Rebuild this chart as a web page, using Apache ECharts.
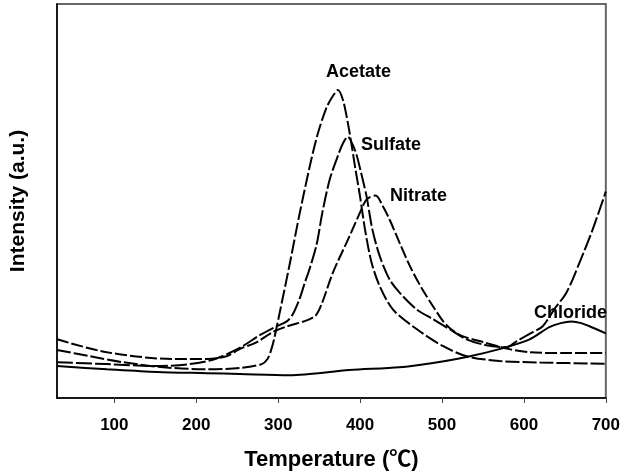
<!DOCTYPE html>
<html>
<head>
<meta charset="utf-8">
<script src="https://cdn.jsdelivr.net/npm/echarts@6/dist/echarts.min.js"></script>
<style>
html,body{margin:0;padding:0;background:#fff;}
#chart{width:623px;height:476px;}
</style>
</head>
<body>
<div id="chart"></div>
<script>
// ---- data (temperature in °C, intensity in arbitrary units) ----
var xTicks = [100, 200, 300, 400, 500, 600, 700];

var acetateT = [30,70,110,160,210,253,280,287,291,295,302,314,326,339,348,359,367,373,379,385,390,394,400,406,414,424,440,469,501,530,570,620,700];
var acetateI = [12.2,10.6,9.1,7.8,7.3,7.6,8.6,9.9,11.9,14.9,21.8,33.9,46.6,59.2,66.8,73.7,76.7,78.2,75.7,69.9,63.8,58.5,51.1,42.8,34.4,28.4,22.5,17.5,13.2,10.6,9.4,9.0,8.7];

var sulfateT = [30,91,152,192,223,253,278,296,311,318,326,332,339,347,354,363,373,379,385,391,396,402,408,415,424,436,448,469,489,509,530,554,579,591,611,623,637,652,668,684,700];
var sulfateI = [9.1,8.6,8.1,8.6,9.9,12.7,16.0,18.0,19.5,21.3,25.1,28.9,33.2,39.0,47.1,55.5,61.5,64.6,66.3,64.3,61.5,56.5,51.1,42.8,36.0,30.1,26.8,22.5,20.0,17.5,14.9,13.4,12.9,14.4,16.7,18.2,22.5,26.8,34.4,42.8,52.4];

var nitrateT = [30,91,172,213,237,253,274,293,311,335,346,353,367,387,400,408,419,428,436,448,461,476,489,501,512,525,550,582,607,650,700];
var nitrateI = [14.9,11.6,9.9,9.9,10.6,12.4,14.2,16.7,18.2,19.7,21.0,23.8,31.9,41.0,47.1,50.4,51.4,48.6,45.3,39.5,33.4,27.6,23.3,19.6,17.3,15.7,14.2,12.4,11.6,11.4,11.4];

var chlorideT = [30,91,152,213,253,314,387,448,489,530,570,607,631,645,658,670,680,700];
var chlorideI = [8.1,7.3,6.6,6.3,6.1,5.8,7.1,7.8,8.9,10.4,12.4,14.9,18.0,19.0,19.4,19.0,18.2,16.4];

var labelNames = ['Acetate', 'Sulfate', 'Nitrate', 'Chloride'];

function pairs(t, v) { return t.map(function (x, i) { return [x, v[i]]; }); }

var FONT = "'Liberation Sans', Arial, 'Noto Sans CJK SC', sans-serif";
var chart = echarts.init(document.getElementById('chart'), null, {renderer: 'canvas'});

function lineSeries(name, t, v, type) {
  return {
    name: name, type: 'line', data: pairs(t, v), smooth: 0.3, showSymbol: false,
    clip: true, silent: true,
    lineStyle: {color: '#000', width: 2, type: type}
  };
}

chart.setOption({
  animation: false,
  backgroundColor: '#fff',
  grid: {left: 57, right: 16, top: 4, bottom: 77, show: true, borderColor: '#666', borderWidth: 2, backgroundColor: 'transparent'},
  xAxis: {
    type: 'value', min: 30, max: 700,
    name: 'Temperature (\u2103)', nameLocation: 'middle', nameGap: 51,
    nameTextStyle: {fontFamily: FONT, fontWeight: 'bold', fontSize: 22, color: '#000'},
    axisLine: {show: true, onZero: false, lineStyle: {color: '#000', width: 1.5}},
    axisTick: {show: true, inside: false, length: 5, customValues: xTicks, lineStyle: {color: '#444', width: 1}},
    axisLabel: {show: true, customValues: xTicks, margin: 19, fontFamily: FONT, fontWeight: 'bold', fontSize: 17, color: '#000'},
    splitLine: {show: false}
  },
  yAxis: {
    type: 'value', min: 0, max: 100,
    name: 'Intensity (a.u.)', nameLocation: 'middle', nameGap: 28,
    nameTextStyle: {fontFamily: FONT, fontWeight: 'bold', fontSize: 21, color: '#000'},
    axisLine: {show: true, lineStyle: {color: '#000', width: 1.5}},
    axisTick: {show: false}, axisLabel: {show: false}, splitLine: {show: false}
  },
  series: [
    lineSeries(labelNames[0], acetateT, acetateI, [14, 3]),
    lineSeries(labelNames[1], sulfateT, sulfateI, [16, 3]),
    lineSeries(labelNames[2], nitrateT, nitrateI, [12, 3]),
    lineSeries(labelNames[3], chlorideT, chlorideI, 'solid')
  ],
  graphic: [
    {type: 'text', left: 326, top: 63, style: {text: labelNames[0], font: 'bold 18px ' + FONT, fill: '#000'}},
    {type: 'text', left: 361, top: 136, style: {text: labelNames[1], font: 'bold 18px ' + FONT, fill: '#000'}},
    {type: 'text', left: 390, top: 187, style: {text: labelNames[2], font: 'bold 18px ' + FONT, fill: '#000'}},
    {type: 'text', left: 534, top: 304, style: {text: labelNames[3], font: 'bold 18px ' + FONT, fill: '#000'}}
  ]
});
</script>
</body>
</html>
